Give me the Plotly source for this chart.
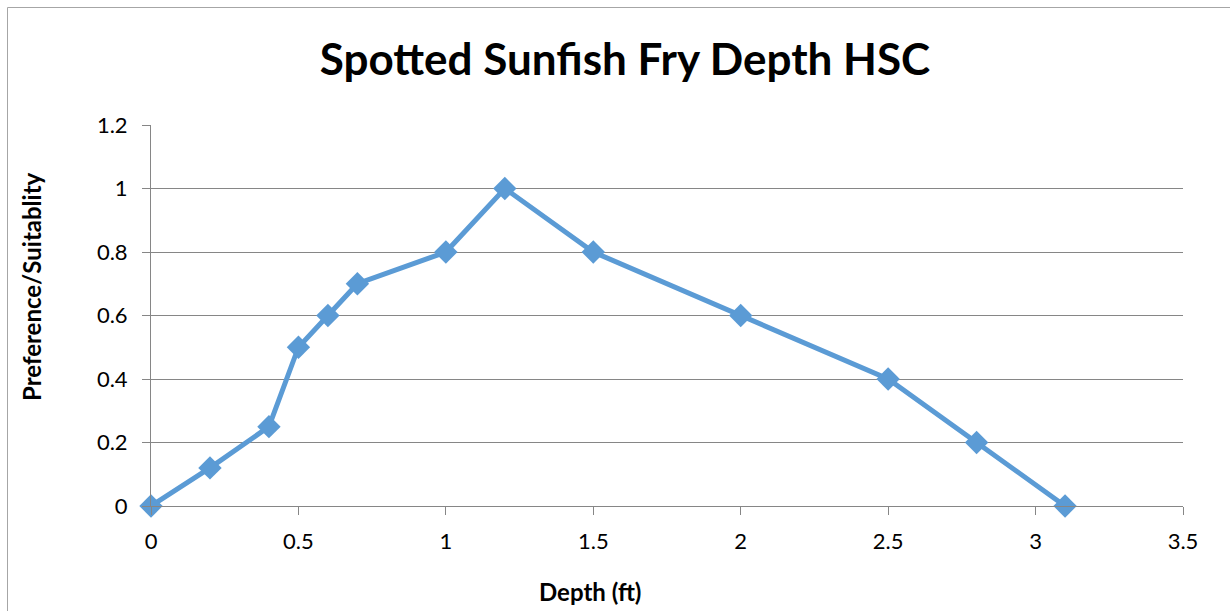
import plotly.graph_objects as go

depth_ft = [0, 0.2, 0.4, 0.5, 0.6, 0.7, 1.0, 1.2, 1.5, 2.0, 2.5, 2.8, 3.1]
suitability = [0, 0.12, 0.25, 0.5, 0.6, 0.7, 0.8, 1.0, 0.8, 0.6, 0.4, 0.2, 0]
x_ticks = [0, 0.5, 1, 1.5, 2, 2.5, 3, 3.5]
y_ticks = [0, 0.2, 0.4, 0.6, 0.8, 1, 1.2]

FONT = "Lato"
W, H = 1230, 611
L, R, T, B = 151, 47, 125, 105
pw, ph = W - L - R, H - T - B

def px_x(p):
    return (p - L) / pw

def px_y(p):
    return (H - B - p) / ph

fig = go.Figure()
fig.add_trace(go.Scatter(
    x=depth_ft, y=suitability, mode="lines+markers",
    line=dict(color="#5B9BD5", width=5),
    marker=dict(symbol="diamond", size=18, color="#5B9BD5"),
    cliponaxis=False, showlegend=False,
))

fig.update_layout(
    width=W, height=H,
    margin=dict(l=L, r=R, t=T, b=B),
    paper_bgcolor="white", plot_bgcolor="white",
    font=dict(family=FONT, color="black"),
    title=dict(text="<b>Spotted Sunfish Fry Depth HSC</b>",
               font=dict(size=44, family=FONT),
               x=625 / W, xanchor="center", y=1 - 60 / H, yanchor="middle"),
    xaxis=dict(range=[0, 3.5], tickvals=x_ticks, ticktext=[str(v) for v in x_ticks],
               showgrid=False, zeroline=False, showline=True, linecolor="#868686",
               ticks="outside", ticklen=8, tickcolor="#868686",
               ticklabelstandoff=8,
               tickfont=dict(size=22), fixedrange=True),
    yaxis=dict(range=[0, 1.2], tickvals=y_ticks, ticktext=[str(v) for v in y_ticks],
               showgrid=True, gridcolor="#868686", zeroline=False,
               showline=True, linecolor="#868686",
               ticks="outside", ticklen=8, tickcolor="#868686",
               ticklabelstandoff=10,
               tickfont=dict(size=22), fixedrange=True),
    annotations=[
        dict(text="<b>Depth (ft)</b>", xref="paper", yref="paper",
             x=px_x(590), y=px_y(591), showarrow=False,
             font=dict(size=24, family=FONT), xanchor="center", yanchor="middle"),
        dict(text="<b>Preference/Suitablity</b>", xref="paper", yref="paper",
             x=px_x(31), y=px_y(287), showarrow=False, textangle=-90,
             font=dict(size=24, family=FONT), xanchor="center", yanchor="middle"),
    ],
    shapes=[
        dict(type="rect", xref="paper", yref="paper",
             x0=px_x(7.5), y0=px_y(640), x1=px_x(1260), y1=px_y(7.5),
             line=dict(color="#A6A6A6", width=1), layer="below"),
    ],
)

fig.write_html("out.html")
